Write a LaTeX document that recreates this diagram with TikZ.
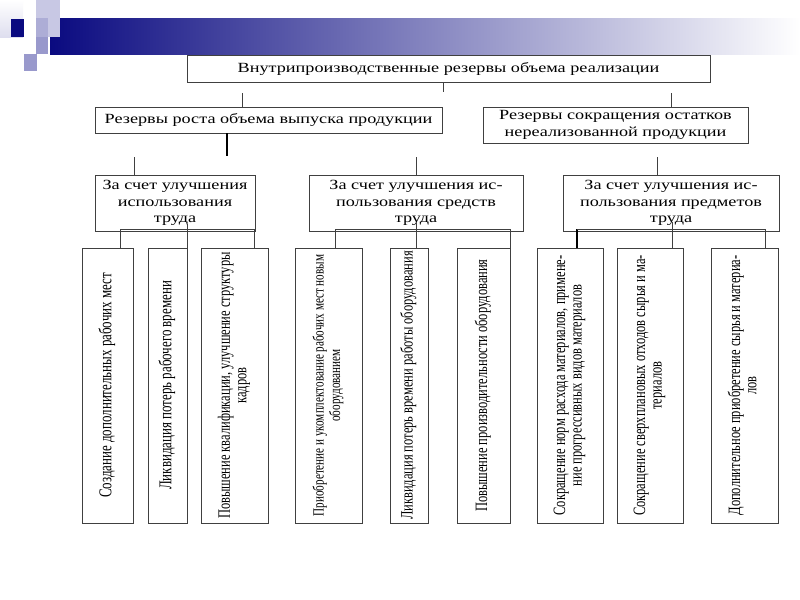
\documentclass[tikz,border=0pt]{standalone}
\usepackage{fontspec}
\setmainfont{Liberation Serif}
\newfontfamily\hfont[FakeStretch=1.3]{Liberation Serif}
\newfontfamily\vfont[FakeStretch=0.72]{Liberation Serif}
\usepackage{graphicx}
\usetikzlibrary{positioning,calc}
\definecolor{slidenavy}{HTML}{0A0A80}
\definecolor{pixlight}{HTML}{C8C8E4}
\definecolor{pixmid}{HTML}{9999CC}
\definecolor{boxline}{HTML}{404040}
\tikzset{
  topbox/.style={draw=boxline,line width=.6pt,fill=white,align=center,inner sep=1pt,font=\fontsize{10.5}{12.5}\hfont},
  groupbox/.style={draw=boxline,line width=.6pt,fill=white,align=center,inner sep=1pt,minimum height=42pt,font=\fontsize{10.5}{12.5}\hfont},
  leaf/.style={draw=boxline,line width=.6pt,fill=white,inner sep=0pt,minimum height=206.25pt},
  link/.style={draw=boxline,line width=.6pt},
  thicklink/.style={draw=black,line width=1.4pt},
}
\newcommand{\vlabel}[2][13]{\rotatebox{90}{\fontsize{#1}{13}\vfont\def\arraystretch{0.95}\begin{tabular}{@{}c@{}}#2\end{tabular}}}

\begin{document}
\begin{tikzpicture}[x=0.75pt,y=-0.75pt]
  \useasboundingbox (0,0) rectangle (800,600);
  \fill[white] (0,0) rectangle (800,600);
  % slide header
  \shade[left color=slidenavy,right color=white] (50,18) rectangle (800,54);
  \shade[top color=white,bottom color=pixlight!60] (0,0) rectangle (23,37);
  \fill[slidenavy] (11,19) rectangle (24,37);
  \fill[pixlight] (36,0) rectangle (60,18);
  \fill[pixlight] (48,18) rectangle (60,37);
  \fill[pixmid!80] (36,18) rectangle (48,37);
  \fill[pixmid] (36,37) rectangle (48,54);
  \fill[pixmid] (24,54) rectangle (37,71);

  % levels 1 and 2
  \node[topbox,minimum width=392.25pt,minimum height=20.25pt] (top) at (448.5,68.5) {Внутрипроизводственные резервы объема реализации};
  \node[topbox,minimum width=260.25pt,minimum height=19.5pt] (lvlA) at (268.5,120) {Резервы роста объема выпуска продукции};
  \node[topbox,minimum width=198.75pt,minimum height=27pt] (lvlB) at (615.5,125) {Резервы сокращения остатков\\нереализованной продукции};

  % level 3
  \node[groupbox,minimum width=120pt] (g1) at (175,203) {За счет улучшения\\использования\\труда};
  \node[groupbox,minimum width=160.5pt] (g2) at (416,203) {За счет улучшения ис-\\пользования средств\\труда};
  \node[groupbox,minimum width=162pt] (g3) at (671,203) {За счет улучшения ис-\\пользования предметов\\труда};

  % leaves
  \node[leaf,minimum width=38.25pt] (L1) at (107.5,385.5) {\vlabel[13.5]{Создание дополнительных рабочих мест}};
  \node[leaf,minimum width=29.25pt] (L2) at (167.5,385.5) {\vlabel[13.5]{Ликвидация потерь рабочего времени}};
  \node[leaf,minimum width=50.25pt] (L3) at (234.5,385.5) {\vlabel{Повышение квалификации, улучшение структуры\\кадров}};
  \node[leaf,minimum width=50.25pt] (L4) at (328.5,385.5) {\vlabel[11.6]{Приобретение и укомплектование рабочих мест новым\\оборудованием}};
  \node[leaf,minimum width=28.5pt] (L5) at (409,385.5) {\vlabel{Ликвидация потерь времени работы оборудования}};
  \node[leaf,minimum width=39.75pt] (L6) at (483.5,385.5) {\vlabel{Повышение производительности оборудования}};
  \node[leaf,minimum width=49.5pt] (L7) at (570,385.5) {\vlabel{Сокращение норм расхода материалов, примене-\\ние прогрессивных видов материалов}};
  \node[leaf,minimum width=49.5pt] (L8) at (650,385.5) {\vlabel{Сокращение сверхплановых отходов сырья и ма-\\териалов}};
  \node[leaf,minimum width=50.25pt] (L9) at (744.5,385.5) {\vlabel{Дополнительное приобретение сырья и материа-\\лов}};

  % stubs between levels
  \coordinate (s0) at (443,92);
  \coordinate (s1) at (242,93);
  \coordinate (s2) at (671,93);
  \coordinate (s3) at (227,156);
  \coordinate (c1) at (134,157);
  \coordinate (c2) at (416,157);
  \coordinate (c3) at (657,157);
  \draw[link] (top.south -| s0) -- (s0);
  \draw[link] (s1) -- (s1 |- lvlA.north);
  \draw[link] (s2) -- (s2 |- lvlB.north);
  \draw[thicklink] (lvlA.south -| s3) -- (s3);
  \draw[link] (c1) -- (c1 |- g1.north);
  \draw[link] (c2) -- (g2.north);
  \draw[link] (c3) -- (c3 |- g3.north);

  % group bars down to leaves
  \coordinate (b1) at (120,229);  \coordinate (e1) at (254,229);
  \coordinate (b2) at (335,229);  \coordinate (e2) at (510,229);
  \coordinate (b3) at (577,229);  \coordinate (e3) at (765,229);
  \draw[link] (b1 |- L1.north) -- (b1) -- (e1) -- (e1 |- L3.north);
  \draw[link] (L2.north east) -- ++(0,-24);
  \draw[link] (b2 |- L4.north) -- (b2) -- (e2) -- (e2 |- L6.north);
  \draw[link] (L5.north -| c2) -- ++(0,-26);
  \draw[thicklink,line width=1pt] (b3 |- L7.north) -- (b3);
  \draw[link] (b3) -- (e3) -- (e3 |- L9.north);
  \draw[link] (672,248) -- ++(0,-26);
\end{tikzpicture}
\end{document}
